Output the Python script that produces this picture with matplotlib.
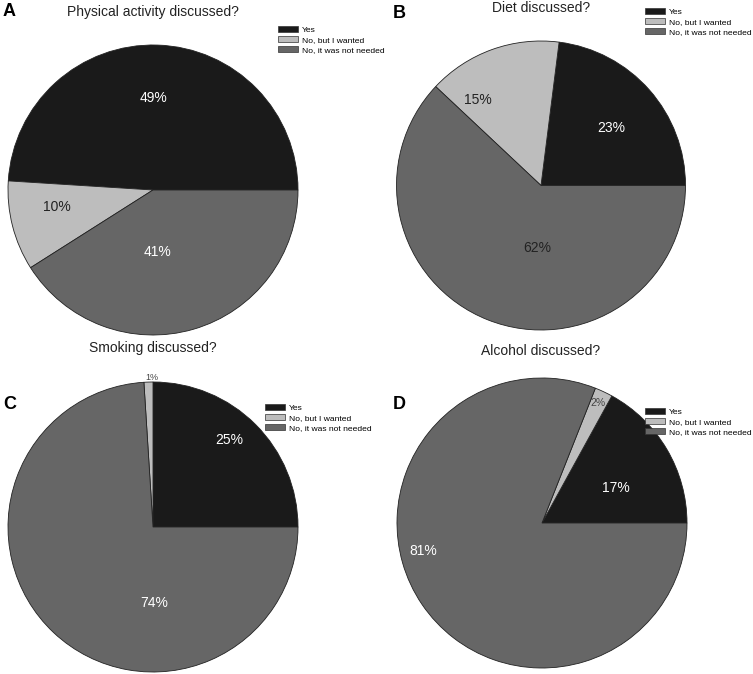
import matplotlib

matplotlib.use("Agg")
import matplotlib.pyplot as plt
from matplotlib.patches import Patch

# ---- data ------------------------------------------------------------------
categories = ["Yes", "No, but I wanted", "No, it was not needed"]
titles = ["Physical activity discussed?", "Diet discussed?",
          "Smoking discussed?", "Alcohol discussed?"]
letters = ["A", "B", "C", "D"]
physical = [49, 10, 41]
diet = [23, 15, 62]
smoking = [25, 1, 74]
alcohol = [17, 2, 81]
panels = [physical, diet, smoking, alcohol]

# ---- style -----------------------------------------------------------------
COLORS = ["#1a1a1a", "#bdbdbd", "#666666"]
W, H = 753, 674

plt.rcParams.update({"font.family": "Liberation Sans"})

# pie geometry in pixels: (centre x, centre y from top, radius)
geom = [(153, 190, 145), (541, 185.5, 144.5), (153, 527, 145), (542, 523, 145)]
# percent label placement, in units of the pie radius
label_xy = [
    [(0.0, 0.634), (-0.662, -0.117), (0.034, -0.428)],
    [(0.484, 0.398), (-0.436, 0.592), (-0.028, -0.433)],
    [(0.524, 0.60), (-0.007, 1.034), (0.007, -0.524)],
    [(0.51, 0.241), (0.386, 0.828), (-0.82, -0.193)],
]
label_col = [
    ["white", "#222222", "white"],
    ["white", "#222222", "#222222"],
    ["white", "#444444", "white"],
    ["white", "#444444", "white"],
]
label_size = [
    [10, 10, 10],
    [10, 10, 10],
    [10, 6.5, 10],
    [10, 7.5, 10],
]
# title (x, y), letter (x, y), legend upper-left (x, y), all pixels from top
title_pos = [(153, 12), (541, 8), (153, 348), (541, 351)]
letter_pos = [(3, 12), (393, 14), (3, 404), (393, 404)]
legend_pos = [(276, 24), (643, 6), (263, 402), (643, 406)]

fig = plt.figure(figsize=(W / 100, H / 100), dpi=100)

for k, vals in enumerate(panels):
    cx, cy, r = geom[k]
    ax = fig.add_axes([(cx - r) / W, (H - cy - r) / H, 2 * r / W, 2 * r / H])
    ax.pie(vals, colors=COLORS, startangle=0, counterclock=True, radius=1.0,
           wedgeprops=dict(edgecolor="#222222", linewidth=0.6))
    ax.set_xlim(-1, 1)
    ax.set_ylim(-1, 1)
    ax.set_aspect("equal")
    ax.axis("off")
    for i, v in enumerate(vals):
        ax.text(label_xy[k][i][0], label_xy[k][i][1], "%d%%" % v,
                ha="center", va="center", color=label_col[k][i],
                fontsize=label_size[k][i], clip_on=False)

    tx, ty = title_pos[k]
    fig.text(tx / W, 1 - ty / H, titles[k], ha="center", va="center",
             fontsize=10, color="#222222")
    lx, ly = letter_pos[k]
    fig.text(lx / W, 1 - ly / H, letters[k], ha="left", va="center",
             fontsize=13, fontweight="bold")
    handles = [Patch(facecolor=c, edgecolor="#333333", linewidth=0.5)
               for c in COLORS]
    gx, gy = legend_pos[k]
    fig.legend(handles, categories, loc="upper left",
               bbox_to_anchor=(gx / W, 1 - gy / H), frameon=False,
               fontsize=6.1, handlelength=2.4, handleheight=0.85,
               labelspacing=0.2, handletextpad=0.5, borderpad=0.2,
               borderaxespad=0)

fig.savefig("out.png", dpi=100)
